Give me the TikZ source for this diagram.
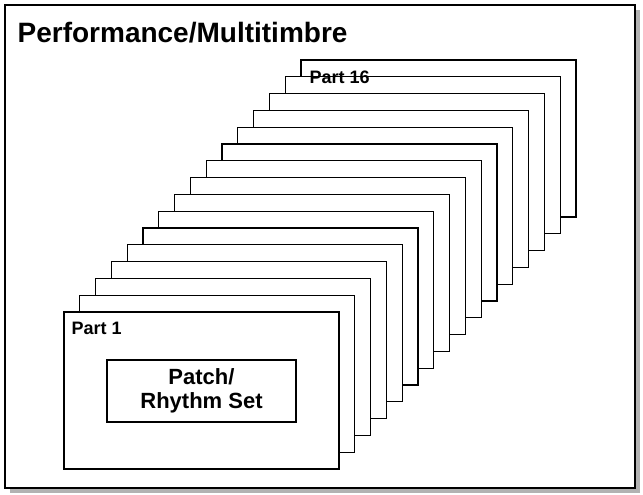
\documentclass[tikz,border=0pt]{standalone}
\usepackage{fontspec}
\setmainfont{Liberation Sans}
\begin{document}
\begin{tikzpicture}[x=1pt,y=-1pt,line width=1.3pt,
  part/.style={draw,fill=white,line width=1.2pt},
  lbl/.style={font=\bfseries\fontsize{18}{20}\selectfont,anchor=north west,inner sep=0pt}]
\useasboundingbox (0,0) rectangle (643,495);

% frame with shadow
\fill[gray!60] (10,10) rectangle (640,493);
\draw[fill=white,line width=2pt] (5,5) rectangle (635,488);
\node[anchor=north west,inner sep=0pt,font=\bfseries\fontsize{28}{32}\selectfont] (title) at (17,22) {Performance/Multitimbre};

% stack of parts, back to front
\foreach \i in {15,...,0}
  \draw[part] ({64+15.8*\i},{312-16.8*\i}) rectangle ++(275,157);

\node[lbl] (p16) at (309,70) {Part 16};
\node[lbl] (p1) at (71,321) {Part 1};
\node[draw,line width=1.2pt,minimum width=189pt,minimum height=62pt,align=center,
  font=\bfseries\fontsize{22}{24}\selectfont] (patch) at (201.5,391) {Patch/\\Rhythm Set};
\end{tikzpicture}
\end{document}
